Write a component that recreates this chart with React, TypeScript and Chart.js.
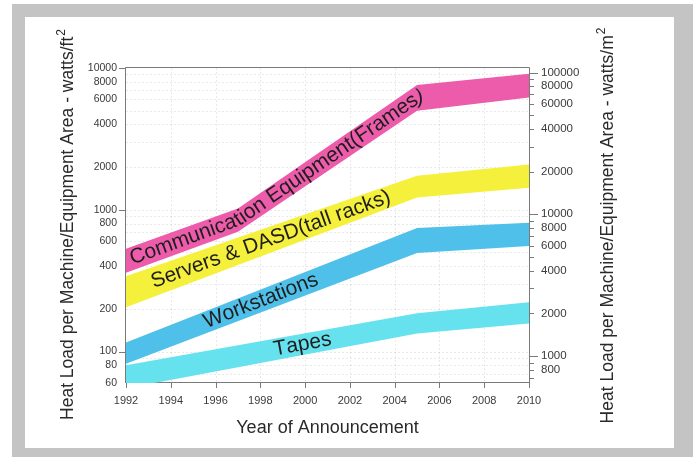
import React, { useEffect, useRef } from "react";
import { Chart, registerables } from "chart.js";

Chart.register(...registerables);

// Heat load bands (watts per square foot) by year of announcement
const commYears = [1992, 1997, 2005, 2010];
const commHigh = [530, 1020, 7600, 9100];
const commLow = [360, 700, 5000, 6200];

const serverYears = [1992, 2005, 2010];
const serverHigh = [340, 1740, 2090];
const serverLow = [205, 1220, 1430];

const workYears = [1992, 2005, 2010];
const workHigh = [116, 745, 810];
const workLow = [82, 496, 555];

const tapeYears = [1992, 2005, 2010];
const tapeHigh = [80, 186, 223];
const tapeLow = [55, 134, 158];

const bandNames = [
  "Communication Equipment(Frames)",
  "Servers & DASD(tall racks)",
  "Workstations",
  "Tapes",
];

// Axis ticks
const yearTicks = [1992, 1994, 1996, 1998, 2000, 2002, 2004, 2006, 2008, 2010];
const leftLabels = [60, 80, 100, 200, 400, 600, 800, 1000, 2000, 4000, 6000, 8000, 10000];
const leftGrid = [
  60, 70, 80, 90, 100, 200, 300, 400, 500, 600, 700, 800, 900, 1000, 2000, 3000, 4000,
  5000, 6000, 7000, 8000, 9000, 10000,
];
const leftMajor = [100, 1000, 10000];
const rightLabels = [800, 1000, 2000, 4000, 6000, 8000, 10000, 20000, 40000, 60000, 80000, 100000];
const rightMinor = [
  700, 800, 900, 1000, 2000, 3000, 4000, 5000, 6000, 7000, 8000, 9000, 10000, 20000, 30000,
  40000, 50000, 60000, 70000, 80000, 90000, 100000,
];
const rightMajor = [1000, 10000, 100000];

const FT2_TO_M2 = 10.7639; // watts/ft^2 -> watts/m^2
const Y_MIN = 60;
const Y_MAX = 10000;

const FONT = '"Liberation Sans", Arial, Helvetica, sans-serif';
const W = 693;
const H = 457;

const bandColors = ["#ec5caa", "#f5f03c", "#4fc0ea", "#66e2ef"];
// where each band label starts (year along the band)
const labelStarts = [1992.2, 1993.15, 1995.5, 1998.6];

type P = { x: number; y: number };
const pts = (xs: number[], ys: number[]): P[] => xs.map((x, i) => ({ x, y: ys[i] }));

const bands = [
  { years: commYears, low: commLow, high: commHigh },
  { years: serverYears, low: serverLow, high: serverHigh },
  { years: workYears, low: workLow, high: workHigh },
  { years: tapeYears, low: tapeLow, high: tapeHigh },
];

function textOnPath(ctx: CanvasRenderingContext2D, text: string, path: number[][], startX: number) {
  const cum: number[] = [0];
  for (let i = 1; i < path.length; i++) {
    const dx = path[i][0] - path[i - 1][0];
    const dy = path[i][1] - path[i - 1][1];
    cum.push(cum[i - 1] + Math.hypot(dx, dy));
  }
  const at = (s: number) => {
    let i = 1;
    while (i < path.length - 1 && cum[i] < s) i++;
    const seg = cum[i] - cum[i - 1];
    const t = (s - cum[i - 1]) / seg;
    const [x0, y0] = path[i - 1];
    const [x1, y1] = path[i];
    return { x: x0 + (x1 - x0) * t, y: y0 + (y1 - y0) * t, a: Math.atan2(y1 - y0, x1 - x0) };
  };
  // distance along the path at startX
  let s = 0;
  for (let i = 1; i < path.length; i++) {
    if (path[i][0] >= startX) {
      const t = (startX - path[i - 1][0]) / (path[i][0] - path[i - 1][0]);
      s = cum[i - 1] + (cum[i] - cum[i - 1]) * t;
      break;
    }
  }
  for (const ch of text) {
    const w = ctx.measureText(ch).width;
    const p = at(s + w / 2);
    ctx.save();
    ctx.translate(p.x, p.y);
    ctx.rotate(p.a);
    ctx.fillText(ch, 0, 0);
    ctx.restore();
    s += w;
  }
}

function verticalTitle(ctx: CanvasRenderingContext2D, main: string, sup: string, bx: number, cy: number) {
  ctx.save();
  ctx.translate(bx, cy);
  ctx.rotate(-Math.PI / 2);
  ctx.fillStyle = "#2a2a2a";
  ctx.textAlign = "left";
  ctx.textBaseline = "alphabetic";
  ctx.font = `17.5px ${FONT}`;
  const w1 = ctx.measureText(main).width;
  ctx.font = `12px ${FONT}`;
  const w2 = ctx.measureText(sup).width;
  const total = w1 + 1 + w2;
  ctx.font = `17.5px ${FONT}`;
  ctx.fillText(main, -total / 2, 0);
  ctx.font = `12px ${FONT}`;
  ctx.fillText(sup, -total / 2 + w1 + 1, -8);
  ctx.restore();
}

const decor = {
  id: "decor",
  beforeDatasetsDraw(chart: any) {
    const { ctx, chartArea: a, scales } = chart;
    const xs = scales.x;
    const ys = scales.y;
    ctx.save();
    ctx.lineWidth = 1;
    ctx.strokeStyle = "rgba(0,0,0,0.085)";
    ctx.setLineDash([2, 2]);
    for (const v of leftGrid) {
      const py = Math.round(ys.getPixelForValue(v)) + 0.5;
      if (py <= a.top + 1 || py >= a.bottom - 1) continue;
      ctx.beginPath();
      ctx.moveTo(a.left, py);
      ctx.lineTo(a.right, py);
      ctx.stroke();
    }
    for (const yr of yearTicks) {
      const px = Math.round(xs.getPixelForValue(yr)) + 0.5;
      if (px <= a.left + 1 || px >= a.right - 1) continue;
      ctx.beginPath();
      ctx.moveTo(px, a.top);
      ctx.lineTo(px, a.bottom);
      ctx.stroke();
    }
    ctx.setLineDash([]);
    // x axis line sits inside the plot so the bands cover it
    ctx.strokeStyle = "#7a7a7a";
    ctx.beginPath();
    ctx.moveTo(a.left, a.bottom - 0.5);
    ctx.lineTo(a.right, a.bottom - 0.5);
    ctx.stroke();
    ctx.restore();
  },
  afterDatasetsDraw(chart: any) {
    const { ctx, chartArea: a, scales } = chart;
    const xs = scales.x;
    const ys = scales.y;
    const y2 = scales.y2;
    ctx.save();
    // frame
    ctx.lineWidth = 1;
    ctx.strokeStyle = "#7a7a7a";
    ctx.beginPath();
    ctx.moveTo(a.left - 0.5, a.bottom);
    ctx.lineTo(a.left - 0.5, a.top - 0.5);
    ctx.lineTo(a.right + 0.5, a.top - 0.5);
    ctx.lineTo(a.right + 0.5, a.bottom + 4);
    ctx.stroke();

    // tick marks
    ctx.beginPath();
    for (const v of leftMajor) {
      const py = Math.round(ys.getPixelForValue(v)) + 0.5;
      ctx.moveTo(a.left - 7, py);
      ctx.lineTo(a.left, py);
    }
    for (const v of rightMinor) {
      const py = Math.round(y2.getPixelForValue(v)) + 0.5;
      const len = rightMajor.includes(v) ? 9 : 5;
      ctx.moveTo(a.right, py);
      ctx.lineTo(a.right + len, py);
    }
    for (const yr of yearTicks) {
      const px = Math.round(xs.getPixelForValue(yr)) + 0.5;
      ctx.moveTo(px, a.bottom);
      ctx.lineTo(px, a.bottom + 5);
    }
    ctx.stroke();

    // band labels along each band's centre line
    ctx.font = `21px ${FONT}`;
    ctx.fillStyle = "#1e1e1e";
    ctx.textAlign = "center";
    ctx.textBaseline = "middle";
    bands.forEach((b, k) => {
      const path = b.years.map((yr, i) => [
        xs.getPixelForValue(yr),
        (ys.getPixelForValue(b.low[i]) + ys.getPixelForValue(b.high[i])) / 2,
      ]);
      textOnPath(ctx, bandNames[k], path, xs.getPixelForValue(labelStarts[k]));
    });

    // axis titles
    const cy = (a.top + a.bottom) / 2 - 1;
    verticalTitle(ctx, "Heat Load per Machine/Equipment Area - watts/ft", "2", 73, cy);
    verticalTitle(ctx, "Heat Load per Machine/Equipment Area - watts/m", "2", 613, cy + 1);
    ctx.font = `18px ${FONT}`;
    ctx.fillStyle = "#2a2a2a";
    ctx.textAlign = "center";
    ctx.textBaseline = "alphabetic";
    ctx.fillText("Year of Announcement", (a.left + a.right) / 2, 433);
    ctx.restore();
  },
};

export default function App() {
  const ref = useRef<HTMLCanvasElement>(null);

  useEffect(() => {
    const canvas = ref.current;
    if (!canvas) return;

    const datasets: any[] = [];
    bands.forEach((b, k) => {
      const base = {
        borderWidth: 0,
        borderColor: "rgba(0,0,0,0)",
        backgroundColor: bandColors[k],
        pointRadius: 0,
        pointHoverRadius: 0,
        tension: 0,
        xAxisID: "x",
        yAxisID: "y",
      };
      datasets.push({ ...base, data: pts(b.years, b.low), fill: false });
      datasets.push({ ...base, data: pts(b.years, b.high), fill: "-1" });
    });

    const tickFont = (size: number) => ({ family: FONT, size });

    const chart = new Chart(canvas, {
      type: "line",
      data: { datasets },
      plugins: [decor],
      options: {
        animation: false,
        responsive: false,
        events: [],
        layout: { padding: { top: 68, left: 0, right: 0, bottom: 0 } },
        plugins: { legend: { display: false }, tooltip: { enabled: false } },
        scales: {
          x: {
            type: "linear",
            position: "bottom",
            min: 1992,
            max: 2010,
            grid: { display: false, drawTicks: false },
            border: { display: false },
            afterBuildTicks: (s: any) => {
              s.ticks = yearTicks.map((v) => ({ value: v }));
            },
            afterFit: (s: any) => {
              s.height = 74;
            },
            ticks: {
              autoSkip: false,
              maxRotation: 0,
              padding: 11,
              color: "#3a3a3a",
              font: tickFont(11),
              callback: (v: any) => String(v),
            },
          },
          y: {
            type: "logarithmic",
            position: "left",
            min: Y_MIN,
            max: Y_MAX,
            bounds: "data",
            grid: { display: false, drawTicks: false },
            border: { display: false },
            afterBuildTicks: (s: any) => {
              s.ticks = leftLabels.map((v) => ({ value: v }));
            },
            afterFit: (s: any) => {
              s.width = 126;
            },
            ticks: {
              autoSkip: false,
              padding: 9,
              color: "#3a3a3a",
              font: tickFont(10.5),
              callback: (v: any) => String(v),
            },
          },
          y2: {
            type: "logarithmic",
            position: "right",
            min: Y_MIN * FT2_TO_M2,
            max: Y_MAX * FT2_TO_M2,
            bounds: "data",
            grid: { display: false, drawTicks: false },
            border: { display: false },
            afterBuildTicks: (s: any) => {
              s.ticks = rightLabels.map((v) => ({ value: v }));
            },
            afterFit: (s: any) => {
              s.width = W - 529;
            },
            ticks: {
              autoSkip: false,
              padding: 12,
              color: "#3a3a3a",
              font: tickFont(11.5),
              callback: (v: any) => String(v),
            },
          },
        },
      } as any,
    });

    return () => chart.destroy();
  }, []);

  return (
    <div style={{ position: "absolute", left: 0, top: 0, width: W, height: H, background: "#fff" }}>
      <div style={{ position: "absolute", left: 12, top: 4, width: 681, height: 453, background: "#c4c4c4" }} />
      <div style={{ position: "absolute", left: 25, top: 17, width: 649, height: 431, background: "#fff" }} />
      <canvas ref={ref} width={W} height={H} style={{ position: "absolute", left: 0, top: 0, width: W, height: H }} />
    </div>
  );
}
